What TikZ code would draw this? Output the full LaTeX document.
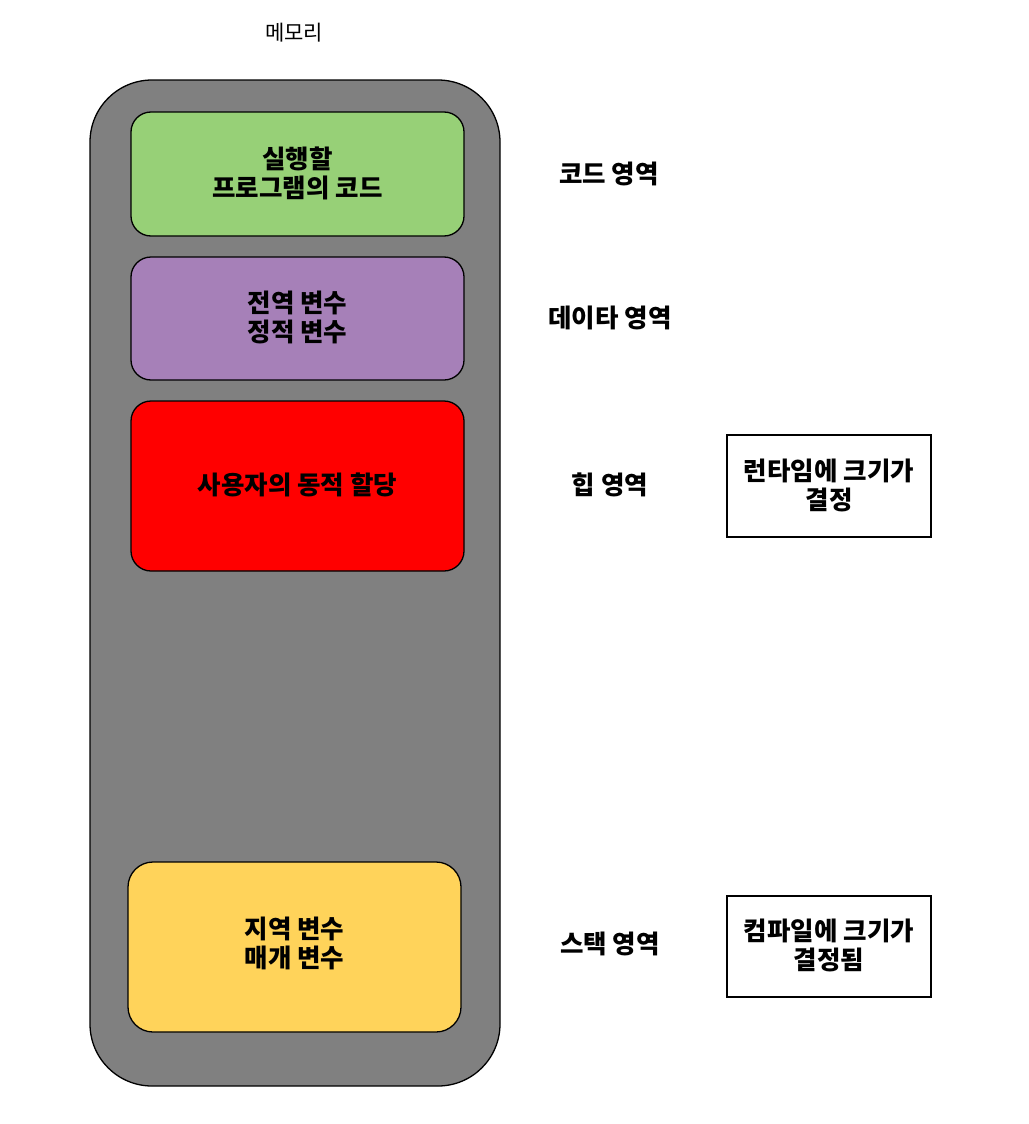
\documentclass[tikz,border=0pt]{standalone}
\usepackage{fontspec}
\setmainfont{Noto Sans CJK KR}
\definecolor{mgray}{HTML}{808080}
\definecolor{mgreen}{HTML}{97D077}
\definecolor{mpurple}{HTML}{A680B8}
\definecolor{mred}{HTML}{FF0000}
\definecolor{myellow}{HTML}{FFD35A}
\begin{document}
\begin{tikzpicture}[x=1pt,y=-1pt,
  seg/.style={draw=black,line width=1.3pt,rounded corners=20pt},
  btxt/.style={font=\fontsize{25.5}{29}\selectfont\bfseries,align=center,inner sep=0pt},
  note/.style={draw=black,line width=1.3pt,fill=white}]
\useasboundingbox (0,0) rectangle (1028,1124);
\node[font=\fontsize{21}{24}\selectfont,inner sep=0pt] (title) at (294,33) {메모리};
\draw[seg,fill=mgray,rounded corners=62pt] (90,80) rectangle (500,1086);
\draw[seg,fill=mgreen] (131,112) rectangle (464,236);
\node[btxt] (code) at (297.5,173.5) {실행할\\프로그램의 코드};
\draw[seg,fill=mpurple] (131,257) rectangle (464,380);
\node[btxt] (data) at (297.5,317.5) {전역 변수\\정적 변수};
\draw[seg,fill=mred] (131,401) rectangle (464,571);
\node[btxt] (heap) at (297.5,485) {사용자의 동적 할당};
\draw[seg,fill=myellow,rounded corners=25pt] (128,862) rectangle (461,1032);
\node[btxt] (stack) at (294.5,943.5) {지역 변수\\매개 변수};
\node[btxt] (lcode) at (609,173.5) {코드 영역};
\node[btxt] (ldata) at (610,317.5) {데이타 영역};
\node[btxt] (lheap) at (610,484.5) {힙 영역};
\node[btxt] (lstack) at (610,943.5) {스택 영역};
\draw[note] (727,435) rectangle (931,537);
\node[btxt] (n1) at (829,485) {런타임에 크기가\\결정};
\draw[note] (727,896) rectangle (931,997);
\node[btxt] (n2) at (829,945.5) {컴파일에 크기가\\결정됨};
\end{tikzpicture}
\end{document}
